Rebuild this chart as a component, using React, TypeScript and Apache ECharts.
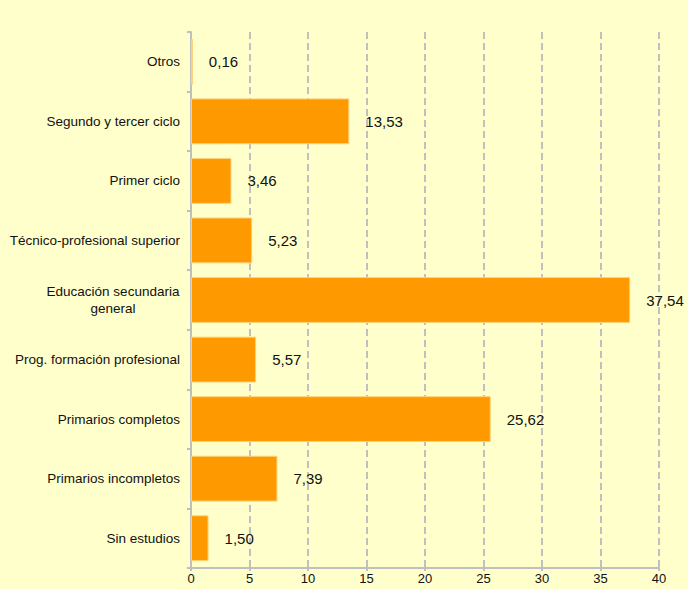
import React, { useEffect, useRef } from "react";
import * as echarts from "echarts";

const categories = [
  "Sin estudios",
  "Primarios incompletos",
  "Primarios completos",
  "Prog. formación profesional",
  "Educación secundaria general",
  "Técnico-profesional superior",
  "Primer ciclo",
  "Segundo y tercer ciclo",
  "Otros",
];
const values = [1.5, 7.39, 25.62, 5.57, 37.54, 5.23, 3.46, 13.53, 0.16];
const xTicks = [0, 5, 10, 15, 20, 25, 30, 35, 40];

export default function App() {
  const ref = useRef<HTMLDivElement>(null);
  useEffect(() => {
    if (!ref.current) return;
    const chart = echarts.init(ref.current, null, { renderer: "svg" });
    chart.setOption({
      animation: false,
      backgroundColor: "#FFFFCC",
      textStyle: { fontFamily: "Liberation Sans, Arial, sans-serif" },
      grid: { left: 191, right: 29, top: 32, bottom: 21, containLabel: false },
      xAxis: {
        type: "value",
        min: xTicks[0],
        max: xTicks[xTicks.length - 1],
        interval: 5,
        axisLine: { show: true, lineStyle: { color: "#BFBFBF", width: 2 } },
        axisTick: { show: true, length: 3, lineStyle: { color: "#BFBFBF", width: 2 } },
        axisLabel: { color: "#111", fontSize: 13, margin: 4 },
        splitLine: {
          show: true,
          lineStyle: { color: "#C0C0C0", width: 2, type: [7, 4] },
        },
      },
      yAxis: {
        type: "category",
        data: categories,
        axisLine: { show: true, lineStyle: { color: "#BFBFBF", width: 2 } },
        axisTick: { show: true, length: 4, lineStyle: { color: "#BFBFBF", width: 2 } },
        axisLabel: {
          color: "#111",
          fontSize: 13.5,
          margin: 11,
          formatter: (v: string) =>
            v === "Educación secundaria general"
              ? "{a|Educación secundaria}\n{a|general}"
              : v,
          rich: {
            a: { width: 134, align: "center", fontSize: 13.5, color: "#111", lineHeight: 17 },
          },
        },
      },
      series: [
        {
          type: "bar",
          data: values,
          barCategoryGap: "23%",
          itemStyle: { color: "#FF9900", borderColor: "#FFD27A", borderWidth: 1 },
          label: {
            show: true,
            position: "right",
            distance: 16,
            color: "#111",
            fontSize: 15,
            formatter: (p: any) => p.value.toFixed(2).replace(".", ","),
          },
        },
      ],
    });
    return () => chart.dispose();
  }, []);
  return (
    <div
      ref={ref}
      style={{ position: "fixed", left: 0, top: 0, width: 688, height: 589 }}
    />
  );
}
